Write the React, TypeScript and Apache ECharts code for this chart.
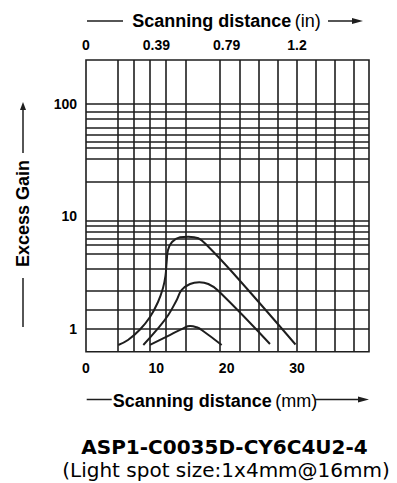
import React, { useEffect, useRef } from "react";
import * as echarts from "echarts";

// Scanning distance (mm) vs Excess Gain (log)
const curveA: [number, number][] = [
  [4.59, 0.721], [5.97, 0.798], [7.68, 0.99], [9.1, 1.279], [10.24, 1.738], [10.95, 2.314],
  [11.3, 2.959], [11.47, 3.94], [11.66, 5.037], [12.23, 5.934], [13.37, 6.534], [14.55, 6.614],
  [15.97, 6.401], [17.16, 5.58], [20.94, 3.127], [29.79, 0.728],
];
const curveB: [number, number][] = [
  [8.15, 0.721], [10.05, 0.98], [11.7, 1.332], [12.9, 1.811], [13.61, 2.222],
  [14.79, 2.512], [16.11, 2.601], [17.39, 2.512], [18.81, 2.19], [26.16, 0.736],
];
const curveC: [number, number][] = [
  [9.1, 0.721], [11.47, 0.854], [13.83, 1.014], [14.79, 1.063], [15.74, 1.035],
  [16.45, 0.98], [19.29, 0.721],
];

const bottomTickLabels = ["0", "10", "20", "30"];
const topTickLabels = ["0", "0.39", "0.79", "1.2"];
const yTickLabels = [1, 10, 100];

const xGridLines = [4.55, 6.82, 9.1, 11.37, 14.12, 19.05, 21.8, 24.56, 27.2, 29.96, 32.6, 35.36, 38.11];
const yGridLines = [100, 85.4, 73.6, 61.6, 53.8, 46.2, 40.9, 32.4, 20.4, 9.18, 8.28, 7.33, 6.4, 5.58, 4.71, 3.46, 2.18, 1.475, 1];

const INK = "#1e1e1e";
const FONT = '"Liberation Sans", Arial, sans-serif';

export default function App() {
  const ref = useRef<HTMLDivElement>(null);
  useEffect(() => {
    if (!ref.current) return;
    const chart = echarts.init(ref.current, undefined, { renderer: "svg" });
    const lineStyle = { color: INK, width: 2 };
    const tickLabel = { color: "#000", fontWeight: "bold" as const, fontSize: 14, fontFamily: FONT };
    chart.setOption({
      animation: false,
      backgroundColor: "#fff",
      grid: {
        left: 86, right: 28, top: 60, bottom: 131.3,
        show: true, borderColor: INK, borderWidth: 1.6, backgroundColor: "transparent",
      },
      xAxis: [
        {
          type: "value", position: "bottom", min: 0, max: 40.24, interval: 10,
          axisLine: { show: false }, axisTick: { show: false }, splitLine: { show: false },
          axisLabel: {
            ...tickLabel, margin: 9,
            formatter: (v: number) => {
              const i = Math.round(v / 10);
              return Math.abs(v - i * 10) < 1e-6 && i < bottomTickLabels.length ? bottomTickLabels[i] : "";
            },
          },
        },
        {
          type: "value", position: "top", min: 0, max: 40.24, interval: 10,
          axisLine: { show: false }, axisTick: { show: false }, splitLine: { show: false },
          axisLabel: {
            ...tickLabel, margin: 8,
            formatter: (v: number) => {
              const i = Math.round(v / 10);
              return Math.abs(v - i * 10) < 1e-6 && i < topTickLabels.length ? topTickLabels[i] : "";
            },
          },
        },
      ],
      yAxis: {
        type: "log", logBase: 10, min: 0.628, max: 246,
        axisLine: { show: false }, axisTick: { show: false }, splitLine: { show: false },
        axisLabel: {
          ...tickLabel, margin: 9,
          formatter: (v: number) => {
            const t = yTickLabels.find((k) => Math.abs(v - k) / k < 1e-4);
            return t !== undefined ? String(t) : "";
          },
        },
      },
      series: [
        {
          type: "line", data: curveA, showSymbol: false, smooth: 0.4, lineStyle,
          markLine: {
            silent: true, symbol: "none", label: { show: false },
            lineStyle: { color: INK, width: 1.6, type: "solid" },
            emphasis: { disabled: true },
            data: [
              ...xGridLines.map((v) => ({ xAxis: v })),
              ...yGridLines.map((v) => ({ yAxis: v })),
            ],
          },
        },
        { type: "line", data: curveB, showSymbol: false, smooth: 0.45, lineStyle },
        { type: "line", data: curveC, showSymbol: false, smooth: 0.45, lineStyle },
      ],
      graphic: [
        // top title
        { type: "line", shape: { x1: 87, y1: 21, x2: 123, y2: 21 }, style: { stroke: INK, lineWidth: 1.5 } },
        {
          type: "text", x: 226.5, y: 21,
          style: {
            text: "{b|Scanning distance} {n|(in)}", align: "center", verticalAlign: "middle",
            rich: {
              b: { fontWeight: "bold", fontSize: 18, fontFamily: FONT, fill: "#000" },
              n: { fontWeight: "normal", fontSize: 18, fontFamily: FONT, fill: "#000" },
            },
          },
        },
        { type: "line", shape: { x1: 328, y1: 21, x2: 356, y2: 21 }, style: { stroke: INK, lineWidth: 1.5 } },
        { type: "polygon", shape: { points: [[352, 18], [363, 21], [352, 24]] }, style: { fill: INK } },
        // bottom title
        { type: "line", shape: { x1: 86.7, y1: 399.5, x2: 111.7, y2: 399.5 }, style: { stroke: INK, lineWidth: 1.5 } },
        {
          type: "text", x: 215, y: 401,
          style: {
            text: "{b|Scanning distance} {n|(mm)}", align: "center", verticalAlign: "middle",
            rich: {
              b: { fontWeight: "bold", fontSize: 18, fontFamily: FONT, fill: "#000" },
              n: { fontWeight: "normal", fontSize: 18, fontFamily: FONT, fill: "#000" },
            },
          },
        },
        { type: "line", shape: { x1: 315, y1: 399.5, x2: 362, y2: 399.5 }, style: { stroke: INK, lineWidth: 1.5 } },
        { type: "polygon", shape: { points: [[358, 396.5], [369, 399.5], [358, 402.5]] }, style: { fill: INK } },
        // y title
        { type: "line", shape: { x1: 23, y1: 153, x2: 23, y2: 108 }, style: { stroke: INK, lineWidth: 1.5 } },
        { type: "polygon", shape: { points: [[20, 110], [23, 102], [26, 110]] }, style: { fill: INK } },
        {
          type: "text", x: 23, y: 213.5, rotation: Math.PI / 2,
          style: {
            text: "Excess Gain", align: "center", verticalAlign: "middle",
            fontWeight: "bold", fontSize: 18, fontFamily: FONT, fill: "#000",
          },
        },
        { type: "line", shape: { x1: 23, y1: 278, x2: 23, y2: 327 }, style: { stroke: INK, lineWidth: 1.5 } },
        // model
        {
          type: "text", x: 224.5, y: 447,
          style: {
            text: "ASP1-C0035D-CY6C4U2-4", align: "center", verticalAlign: "middle",
            fontWeight: "bold", fontSize: 20, fontFamily: '"DejaVu Sans", sans-serif', fill: "#000",
          },
        },
        {
          type: "text", x: 226, y: 469.5,
          style: {
            text: "(Light spot size:1x4mm@16mm)", align: "center", verticalAlign: "middle",
            fontWeight: "normal", fontSize: 20, fontFamily: '"DejaVu Sans", sans-serif', fill: "#000",
          },
        },
      ],
    });
    return () => chart.dispose();
  }, []);
  return (
    <div
      ref={ref}
      style={{ position: "fixed", left: 0, top: 0, width: 397, height: 483, background: "#fff" }}
    />
  );
}
